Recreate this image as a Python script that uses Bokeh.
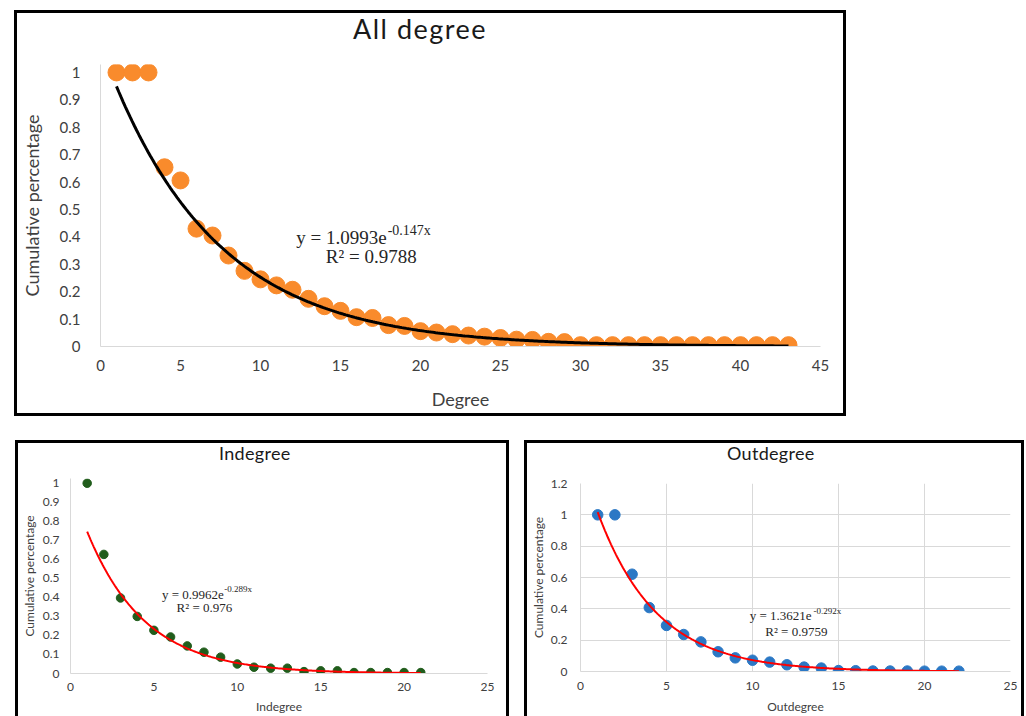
import numpy as np
from bokeh.plotting import figure
from bokeh.models import Label, NumeralTickFormatter, FixedTicker, Range1d, Spacer, Div
from bokeh.layouts import column, row
from bokeh.embed import file_html
from bokeh.resources import INLINE

# ---------------- data ----------------
all_degree = list(range(1, 44))
all_cum = [1.0, 1.0, 1.0, 0.654, 0.606, 0.43, 0.405, 0.332, 0.276, 0.245,
           0.223, 0.207, 0.174, 0.147, 0.13, 0.107, 0.104, 0.078, 0.075, 0.056,
           0.051, 0.045, 0.040, 0.036, 0.031, 0.025, 0.024, 0.017, 0.016, 0.005,
           0.005, 0.005, 0.005, 0.005, 0.005, 0.005, 0.005, 0.005, 0.005, 0.005,
           0.005, 0.005, 0.005]
all_fit = (1.0993, 0.147)
all_eq = ("y = 1.0993e", "-0.147x", "R\u00b2 = 0.9788")

in_degree = list(range(1, 22))
in_cum = [1.0, 0.626, 0.397, 0.30, 0.227, 0.192, 0.145, 0.112, 0.086, 0.05,
          0.033, 0.028, 0.028, 0.01, 0.014, 0.014, 0.005, 0.005, 0.005, 0.005, 0.005]
in_fit = (0.9962, 0.289)
in_eq = ("y = 0.9962e", "-0.289x", "R\u00b2 = 0.976")

out_degree = list(range(1, 23))
out_cum = [1.0, 1.0, 0.621, 0.408, 0.294, 0.236, 0.189, 0.126, 0.087, 0.072,
           0.06, 0.043, 0.028, 0.022, 0.006, 0.005, 0.003, 0.003, 0.003, 0.002,
           0.002, 0.002]
out_fit = (1.3621, 0.292)
out_eq = ("y = 1.3621e", "-0.292x", "R\u00b2 = 0.9759")

x_ticks_all = [0, 5, 10, 15, 20, 25, 30, 35, 40, 45]
y_ticks_all = [0, 0.1, 0.2, 0.3, 0.4, 0.5, 0.6, 0.7, 0.8, 0.9, 1.0]
x_ticks_small = [0, 5, 10, 15, 20, 25]
y_ticks_in = [0, 0.1, 0.2, 0.3, 0.4, 0.5, 0.6, 0.7, 0.8, 0.9, 1.0]
y_ticks_out = [0, 0.2, 0.4, 0.6, 0.8, 1.0, 1.2]

titles = ("All degree", "Indegree", "Outdegree")
x_labels = ("Degree", "Indegree", "Outdegree")
y_label = "Cumulative percentage"

# ---------------- styling ----------------
SANS = "Lato"
SERIF = "Liberation Serif"
AXIS_GREY = "#d9d9d9"
TXT = "#404040"
BOX = {"outline": "3px solid black", "background-color": "white"}


def base_fig(w, h, xr, yr, bl, br, bt, bb):
    p = figure(width=w, height=h, x_range=Range1d(*xr), y_range=Range1d(*yr),
               min_border_left=bl, min_border_right=br, min_border_top=bt,
               min_border_bottom=bb, output_backend="svg", toolbar_location=None,
               title=None, background_fill_color="white", border_fill_color="white")
    p.outline_line_color = None
    for ax in (p.xaxis[0], p.yaxis[0]):
        ax.axis_line_color = AXIS_GREY
        ax.axis_line_width = 1
        ax.major_tick_line_color = None
        ax.minor_tick_line_color = None
        ax.major_tick_out = 0
        ax.major_tick_in = 0
        ax.major_label_text_font = SANS
        ax.major_label_text_color = TXT
        ax.axis_label_text_font = SANS
        ax.axis_label_text_color = TXT
        ax.axis_label_text_font_style = "normal"
    p.yaxis.formatter = NumeralTickFormatter(format="0.[0]")
    return p


def title_div(text, w, h, left, size, spacing):
    html = ('<div style="position:relative; left:%dpx; top:0px; font-family:Lato; '
            'font-size:%dpx; line-height:1.2; letter-spacing:%spx; color:#1a1a1a; '
            'white-space:nowrap; margin:0; padding:0">%s</div>') % (left, size, spacing, text)
    return Div(text=html, width=w, height=h, margin=0,
               styles={"background-color": "white"})


def equation(p, eq, main_xy, sup_xy, r_xy, main_size, sup_size):
    p.add_layout(Label(x=main_xy[0], y=main_xy[1], text=eq[0], text_font=SERIF,
                       text_font_size=main_size, text_color="#262626",
                       text_align="left", text_baseline="middle"))
    p.add_layout(Label(x=sup_xy[0], y=sup_xy[1], text=eq[1], text_font=SERIF,
                       text_font_size=sup_size, text_color="#262626",
                       text_align="left", text_baseline="middle"))
    p.add_layout(Label(x=r_xy[0], y=r_xy[1], text=eq[2], text_font=SERIF,
                       text_font_size=main_size, text_color="#262626",
                       text_align="center", text_baseline="middle"))


# ---------------- top: All degree ----------------
p1 = base_fig(826, 359, (0, 45), (0, 1.029), 82, 23, 10, 67)
p1.grid.visible = False
p1.xaxis.ticker = FixedTicker(ticks=x_ticks_all)
p1.yaxis.ticker = FixedTicker(ticks=y_ticks_all)
p1.xaxis.major_label_text_font_size = "15px"
p1.yaxis.major_label_text_font_size = "15px"
p1.xaxis.major_label_standoff = 13
p1.yaxis.major_label_standoff = 20
p1.xaxis.axis_label = x_labels[0]
p1.yaxis.axis_label = y_label
p1.xaxis.axis_label_text_font_size = "18px"
p1.yaxis.axis_label_text_font_size = "18px"
p1.xaxis.axis_label_standoff = 14
p1.yaxis.axis_label_standoff = 14
p1.scatter(all_degree, all_cum, size=17, fill_color="#f98b2c", line_color="#f98b2c")
xs = np.linspace(all_degree[0], all_degree[-1], 300)
p1.line(xs, all_fit[0] * np.exp(-all_fit[1] * xs), line_color="black", line_width=3)
equation(p1, all_eq, (12.23, 0.396), (17.95, 0.425), (16.92, 0.328), "19px", "14px")
chart1 = column(title_div(titles[0], 826, 41, 336, 27, 1.5), p1,
                spacing=0, styles=BOX)

# ---------------- bottom-left: Indegree ----------------
p2 = base_fig(488, 248, (0, 25), (0, 1.025), 48, 19, 10, 43)
p2.grid.visible = False
p2.xaxis.ticker = FixedTicker(ticks=x_ticks_small)
p2.yaxis.ticker = FixedTicker(ticks=y_ticks_in)
p2.xaxis.major_label_text_font_size = "12px"
p2.yaxis.major_label_text_font_size = "12px"
p2.xaxis.major_label_standoff = 9
p2.yaxis.major_label_standoff = 11
p2.xaxis.axis_label = x_labels[1]
p2.yaxis.axis_label = y_label
p2.xaxis.axis_label_text_font_size = "12px"
p2.yaxis.axis_label_text_font_size = "12px"
p2.xaxis.axis_label_standoff = 5
p2.yaxis.axis_label_standoff = 3
p2.scatter(in_degree, in_cum, size=8.5, fill_color="#215d1c", line_color="#215d1c")
xs2 = np.linspace(in_degree[0], in_degree[-1], 300)
p2.line(xs2, in_fit[0] * np.exp(-in_fit[1] * xs2), line_color="#ff0000", line_width=2)
equation(p2, in_eq, (5.48, 0.416), (9.22, 0.442), (8.03, 0.349), "13px", "9px")
chart2 = column(title_div(titles[1], 488, 25, 201, 18, 0.3), p2,
                spacing=0, styles=BOX)

# ---------------- bottom-right: Outdegree ----------------
p3 = base_fig(494, 243, (0, 25), (0, 1.2), 50, 11, 10, 45)
p3.xgrid.grid_line_color = AXIS_GREY
p3.ygrid.grid_line_color = AXIS_GREY
p3.xaxis.ticker = FixedTicker(ticks=x_ticks_small)
p3.yaxis.ticker = FixedTicker(ticks=y_ticks_out)
p3.xaxis.major_label_text_font_size = "12px"
p3.yaxis.major_label_text_font_size = "12px"
p3.xaxis.major_label_standoff = 10
p3.yaxis.major_label_standoff = 13
p3.xaxis.axis_label = x_labels[2]
p3.yaxis.axis_label = y_label
p3.xaxis.axis_label_text_font_size = "12px"
p3.yaxis.axis_label_text_font_size = "12px"
p3.xaxis.axis_label_standoff = 6
p3.yaxis.axis_label_standoff = 2
p3.scatter(out_degree, out_cum, size=10.5, fill_color="#2b78c5", line_color="#2b78c5")
xs3 = np.linspace(out_degree[0], out_degree[-1], 300)
p3.line(xs3, out_fit[0] * np.exp(-out_fit[1] * xs3), line_color="#ff0000", line_width=2)
equation(p3, out_eq, (9.84, 0.355), (13.54, 0.383), (12.55, 0.256), "13px", "9px")
chart3 = column(title_div(titles[2], 494, 30, 200, 18, 0.3), p3,
                spacing=0, styles=BOX)

layout = column(
    Spacer(height=13),
    row(Spacer(width=17), chart1, spacing=0),
    Spacer(height=30),
    row(Spacer(width=18), chart2, Spacer(width=21), chart3, spacing=0),
    spacing=0,
)
open("out.html", "w").write(file_html(layout, INLINE))
